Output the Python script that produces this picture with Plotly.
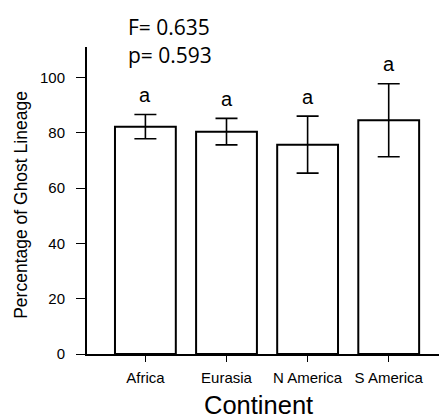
import plotly.graph_objects as go

categories = ["Africa", "Eurasia", "N America", "S America"]
means = [82.2, 80.4, 75.7, 84.5]
errors = [4.4, 4.8, 10.3, 13.2]
letters = ["a", "a", "a", "a"]
y_ticks = [0, 20, 40, 60, 80, 100]
stats_lines = ["F= 0.635", "p= 0.593"]

W, H = 439, 419
L, R, T, B = 87, 0, 47, 65
pw, ph = W - L - R, H - T - B

def px_to_paper(x=None, y=None):
    out = []
    if x is not None:
        out.append((x - L) / pw)
    if y is not None:
        out.append((H - B - y) / ph)
    return out

fig = go.Figure()
fig.add_trace(go.Bar(
    x=list(range(len(categories))),
    y=means,
    marker=dict(color="white", line=dict(color="black", width=2)),
    error_y=dict(type="data", array=errors, visible=True, color="black",
                 thickness=1.6, width=11),
    width=0.75,
))

annotations = []
for i, (m, e, lab) in enumerate(zip(means, errors, letters)):
    annotations.append(dict(x=i, y=m + e + 7, xref="x", yref="y", text=lab,
                            showarrow=False, xanchor="center", yanchor="middle",
                            font=dict(family="Arial, Liberation Sans", size=20, color="black")))

ax, = px_to_paper(x=126)
for k, line in enumerate(stats_lines):
    _, ay = px_to_paper(x=0, y=27 + 28 * k)
    annotations.append(dict(x=ax, y=ay, xref="paper", yref="paper", text=line,
                            showarrow=False, xanchor="left", yanchor="middle",
                            font=dict(family="Open Sans", size=21, color="black")))

tx, ty = px_to_paper(x=21.5, y=205.3)
annotations.append(dict(x=tx, y=ty, xref="paper", yref="paper",
                        text="Percentage of Ghost Lineage", textangle=-90,
                        showarrow=False, xanchor="center", yanchor="middle",
                        font=dict(family="Arial, Liberation Sans", size=17.5, color="black")))
cx, cy = px_to_paper(x=258.3, y=405)
annotations.append(dict(x=cx, y=cy, xref="paper", yref="paper", text="Continent",
                        showarrow=False, xanchor="center", yanchor="middle",
                        font=dict(family="Arial, Liberation Sans", size=25.5, color="black")))

fig.update_layout(
    width=W, height=H,
    margin=dict(l=L, r=R, t=T, b=B, pad=0),
    plot_bgcolor="white", paper_bgcolor="white",
    showlegend=False,
    annotations=annotations,
    xaxis=dict(range=[-0.72, 3.62], tickmode="array",
               tickvals=list(range(len(categories))), ticktext=categories,
               showline=True, linecolor="black", linewidth=2,
               ticks="outside", ticklen=6, tickwidth=1, tickcolor="black",
               ticklabelstandoff=3,
               tickfont=dict(family="Arial, Liberation Sans", size=15, color="black"),
               showgrid=False, zeroline=False, fixedrange=True),
    yaxis=dict(range=[0, 111], tickmode="array", tickvals=y_ticks,
               showline=True, linecolor="black", linewidth=2,
               ticks="outside", ticklen=9, tickwidth=1, tickcolor="black",
               ticklabelstandoff=8,
               tickfont=dict(family="Arial, Liberation Sans", size=15, color="black"),
               showgrid=False, zeroline=False, fixedrange=True),
)

fig.write_html("out.html")
